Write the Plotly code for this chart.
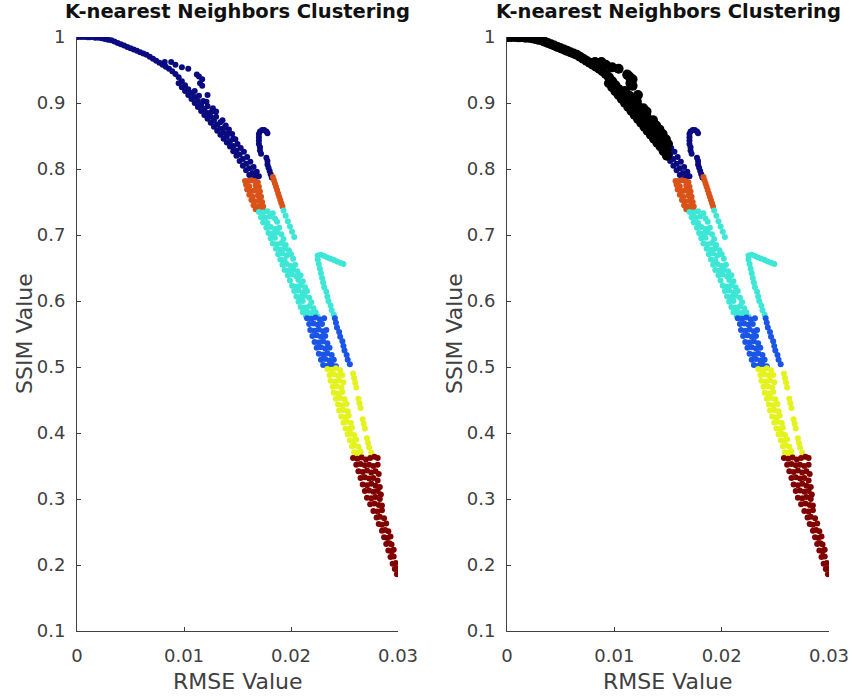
import plotly.graph_objects as go

# ---------------- data: [RMSE, SSIM] points per cluster ----------------
# navy cluster, upper part (drawn black, larger, in the right panel)
navy_upper = [
    [0.0001, 1.000], [0.0004, 1.000], [0.0007, 1.000], [0.0010, 0.9995], [0.0012, 0.9995],
    [0.0014, 1.000], [0.0017, 0.999], [0.0020, 0.999], [0.0023, 0.998], [0.0026, 0.997],
    [0.0029, 0.996], [0.0032, 0.995], [0.0035, 0.993], [0.0038, 0.991], [0.0041, 0.989],
    [0.0044, 0.987], [0.0047, 0.985], [0.0050, 0.983], [0.0053, 0.981], [0.0056, 0.979],
    [0.0059, 0.977], [0.0062, 0.975], [0.0065, 0.973], [0.0068, 0.970], [0.0071, 0.967],
    [0.0074, 0.964], [0.0077, 0.961], [0.0080, 0.958], [0.0083, 0.955], [0.0086, 0.952],
    [0.0089, 0.948], [0.0092, 0.944], [0.0095, 0.939], [0.0098, 0.933], [0.0101, 0.927],
    [0.0104, 0.921], [0.0107, 0.915], [0.0110, 0.909], [0.0113, 0.903], [0.0116, 0.897],
    [0.0119, 0.891], [0.0122, 0.885], [0.0125, 0.879], [0.0128, 0.873], [0.0131, 0.867],
    [0.0134, 0.861], [0.0137, 0.855], [0.0140, 0.849], [0.0143, 0.842], [0.0146, 0.835],
    [0.0149, 0.828],
    [0.0095, 0.930], [0.0098, 0.924], [0.0101, 0.918], [0.0104, 0.912], [0.0107, 0.906],
    [0.0110, 0.900], [0.0113, 0.894], [0.0116, 0.888], [0.0119, 0.882], [0.0122, 0.876],
    [0.0125, 0.870], [0.0128, 0.864], [0.0131, 0.858], [0.0134, 0.852], [0.0137, 0.846],
    [0.0140, 0.840], [0.0143, 0.834], [0.0146, 0.827], [0.0149, 0.820],
    [0.0110, 0.918], [0.0114, 0.911], [0.0118, 0.903], [0.0122, 0.895], [0.0126, 0.887],
    [0.0130, 0.879], [0.0134, 0.871], [0.0138, 0.863], [0.0142, 0.855], [0.0146, 0.846],
    [0.0150, 0.838],
    [0.0082, 0.962], [0.0088, 0.962], [0.0092, 0.958],
    [0.0098, 0.954], [0.0104, 0.952], [0.0112, 0.943],
    [0.0114, 0.940], [0.0117, 0.936], [0.0115, 0.930], [0.0117, 0.926],
    [0.0122, 0.912], [0.0121, 0.902], [0.0127, 0.892], [0.0130, 0.887],
    [0.0136, 0.874], [0.0139, 0.866], [0.0142, 0.860], [0.0145, 0.853],
    [0.0148, 0.845],
]

# navy cluster, lower part and the hook on the right
navy_lower = [
    [0.0152, 0.822], [0.0155, 0.815], [0.0158, 0.808], [0.0161, 0.801], [0.0164, 0.794],
    [0.0167, 0.788], [0.0152, 0.812], [0.0155, 0.805], [0.0158, 0.798], [0.0161, 0.791],
    [0.0164, 0.785], [0.0153, 0.832], [0.0156, 0.826], [0.0159, 0.818], [0.0162, 0.811],
    [0.0165, 0.803], [0.0168, 0.796], [0.0170, 0.789],
    [0.0170, 0.853], [0.0171, 0.857], [0.0173, 0.859], [0.0175, 0.859], [0.0177, 0.857],
    [0.0178, 0.854], [0.0170, 0.848], [0.0170, 0.843], [0.0170, 0.838], [0.0171, 0.833],
    [0.0171, 0.828], [0.0172, 0.823], [0.0177, 0.817], [0.0178, 0.812], [0.0178, 0.807],
    [0.0179, 0.802], [0.0180, 0.797], [0.0181, 0.792], [0.0182, 0.787],
]

orange = [
    [0.0157, 0.782], [0.0160, 0.782], [0.0163, 0.783], [0.0166, 0.782], [0.0169, 0.780],
    [0.0158, 0.776], [0.0161, 0.774], [0.0167, 0.775], [0.0170, 0.773],
    [0.0159, 0.769], [0.0162, 0.766], [0.0165, 0.767], [0.0168, 0.768], [0.0171, 0.766],
    [0.0161, 0.761], [0.0164, 0.758], [0.0169, 0.760], [0.0172, 0.758],
    [0.0163, 0.753], [0.0166, 0.751], [0.0170, 0.752], [0.0173, 0.750],
    [0.0165, 0.745], [0.0168, 0.743], [0.0171, 0.744], [0.0174, 0.743],
    [0.0167, 0.739], [0.0170, 0.737], [0.0173, 0.737],
    [0.0183, 0.788], [0.0184, 0.783], [0.0185, 0.778], [0.0186, 0.773], [0.0187, 0.768],
    [0.0188, 0.763], [0.0189, 0.758], [0.0190, 0.753], [0.0191, 0.748], [0.0192, 0.743],
]

cyan = [
    [0.0170, 0.735], [0.0174, 0.734], [0.0178, 0.736], [0.0183, 0.733],
    [0.0172, 0.727], [0.0176, 0.726], [0.0180, 0.728], [0.0185, 0.725],
    [0.0174, 0.719], [0.0178, 0.718], [0.0187, 0.720],
    [0.0177, 0.711], [0.0181, 0.712], [0.0185, 0.709], [0.0189, 0.711],
    [0.0179, 0.703], [0.0183, 0.702], [0.0187, 0.704], [0.0191, 0.701],
    [0.0181, 0.695], [0.0185, 0.696], [0.0193, 0.694],
    [0.0183, 0.687], [0.0187, 0.686], [0.0191, 0.688], [0.0195, 0.685],
    [0.0186, 0.679], [0.0190, 0.678], [0.0194, 0.680], [0.0198, 0.677],
    [0.0188, 0.671], [0.0192, 0.672], [0.0196, 0.669], [0.0200, 0.671],
    [0.0190, 0.663], [0.0194, 0.662], [0.0202, 0.664],
    [0.0192, 0.655], [0.0196, 0.656], [0.0200, 0.653], [0.0204, 0.655],
    [0.0194, 0.647], [0.0198, 0.646], [0.0202, 0.648], [0.0206, 0.645],
    [0.0197, 0.639], [0.0201, 0.640], [0.0205, 0.637], [0.0209, 0.639],
    [0.0199, 0.631], [0.0207, 0.632], [0.0211, 0.630],
    [0.0201, 0.623], [0.0205, 0.622], [0.0209, 0.624], [0.0213, 0.621],
    [0.0203, 0.615], [0.0207, 0.616], [0.0211, 0.613], [0.0215, 0.615],
    [0.0205, 0.607], [0.0209, 0.606], [0.0213, 0.608], [0.0217, 0.605],
    [0.0207, 0.599], [0.0211, 0.600], [0.0219, 0.598],
    [0.0209, 0.591], [0.0213, 0.590], [0.0217, 0.592], [0.0221, 0.589],
    [0.0211, 0.583], [0.0215, 0.584], [0.0219, 0.582], [0.0223, 0.583],
    [0.0214, 0.577], [0.0218, 0.576], [0.0222, 0.578], [0.0225, 0.576],
    [0.0193, 0.737], [0.0195, 0.729], [0.0197, 0.721], [0.0199, 0.713], [0.0201, 0.705],
    [0.0203, 0.697],
    [0.0225, 0.669], [0.0228, 0.670], [0.0231, 0.668], [0.0234, 0.666], [0.0237, 0.664],
    [0.0240, 0.662], [0.0243, 0.660], [0.0246, 0.658], [0.0249, 0.656],
    [0.0225, 0.663], [0.0226, 0.656], [0.0227, 0.649], [0.0228, 0.642], [0.0229, 0.635],
    [0.0230, 0.628], [0.0231, 0.621], [0.0233, 0.614], [0.0234, 0.607], [0.0235, 0.600],
    [0.0237, 0.593], [0.0238, 0.586], [0.0240, 0.579],
]

blue = [
    [0.0215, 0.574], [0.0219, 0.573], [0.0223, 0.575], [0.0227, 0.572], [0.0231, 0.574],
    [0.0217, 0.565], [0.0221, 0.566], [0.0225, 0.564], [0.0229, 0.565],
    [0.0218, 0.556], [0.0222, 0.555], [0.0226, 0.557], [0.0230, 0.554], [0.0233, 0.556],
    [0.0220, 0.547], [0.0224, 0.548], [0.0228, 0.546], [0.0232, 0.547],
    [0.0222, 0.538], [0.0226, 0.537], [0.0230, 0.539], [0.0234, 0.536],
    [0.0224, 0.529], [0.0228, 0.530], [0.0232, 0.528], [0.0236, 0.529],
    [0.0226, 0.520], [0.0230, 0.519], [0.0234, 0.521], [0.0238, 0.518],
    [0.0228, 0.511], [0.0232, 0.512], [0.0236, 0.510], [0.0240, 0.511],
    [0.0230, 0.503], [0.0234, 0.502], [0.0238, 0.504], [0.0242, 0.501],
    [0.0241, 0.574], [0.0242, 0.567], [0.0243, 0.560], [0.0245, 0.553], [0.0246, 0.546],
    [0.0248, 0.539], [0.0249, 0.532], [0.0250, 0.525], [0.0252, 0.518], [0.0253, 0.511],
    [0.0255, 0.504],
]

yellow = [
    [0.0234, 0.497], [0.0238, 0.496], [0.0242, 0.498], [0.0246, 0.495],
    [0.0236, 0.488], [0.0240, 0.489], [0.0244, 0.487], [0.0248, 0.488],
    [0.0237, 0.479], [0.0241, 0.478], [0.0245, 0.480], [0.0249, 0.477],
    [0.0239, 0.470], [0.0243, 0.471], [0.0247, 0.469],
    [0.0240, 0.461], [0.0244, 0.460], [0.0248, 0.462],
    [0.0242, 0.452], [0.0246, 0.453], [0.0250, 0.451],
    [0.0244, 0.443], [0.0248, 0.442], [0.0252, 0.444],
    [0.0245, 0.434], [0.0249, 0.435], [0.0253, 0.433],
    [0.0247, 0.425], [0.0251, 0.424], [0.0254, 0.426],
    [0.0249, 0.416], [0.0252, 0.417], [0.0256, 0.415],
    [0.0251, 0.407], [0.0254, 0.406], [0.0257, 0.408],
    [0.0253, 0.398], [0.0256, 0.399], [0.0259, 0.397],
    [0.0255, 0.389], [0.0258, 0.388], [0.0261, 0.390],
    [0.0257, 0.380], [0.0260, 0.381], [0.0263, 0.379],
    [0.0259, 0.371], [0.0262, 0.370], [0.0265, 0.372],
    [0.0261, 0.365], [0.0264, 0.366], [0.0266, 0.364],
    [0.0258, 0.490], [0.0259, 0.483], [0.0260, 0.476], [0.0261, 0.469], [0.0263, 0.452],
    [0.0264, 0.445], [0.0265, 0.438], [0.0267, 0.421], [0.0268, 0.414], [0.0269, 0.407],
    [0.0271, 0.392], [0.0272, 0.385], [0.0273, 0.378], [0.0275, 0.370], [0.0276, 0.364],
]

dark_red = [
    [0.0258, 0.362], [0.0262, 0.361], [0.0266, 0.363], [0.0270, 0.360], [0.0274, 0.362],
    [0.0278, 0.364], [0.0281, 0.362],
    [0.0261, 0.352], [0.0265, 0.353], [0.0269, 0.351], [0.0273, 0.352], [0.0277, 0.350],
    [0.0281, 0.352],
    [0.0263, 0.342], [0.0267, 0.341], [0.0271, 0.343], [0.0275, 0.340], [0.0279, 0.342],
    [0.0282, 0.338],
    [0.0265, 0.332], [0.0269, 0.333], [0.0273, 0.331], [0.0277, 0.332], [0.0281, 0.328],
    [0.0267, 0.322], [0.0271, 0.321], [0.0275, 0.323], [0.0279, 0.320], [0.0283, 0.318],
    [0.0269, 0.312], [0.0273, 0.313], [0.0277, 0.311], [0.0281, 0.312], [0.0284, 0.307],
    [0.0271, 0.302], [0.0275, 0.301], [0.0279, 0.303], [0.0283, 0.300],
    [0.0274, 0.292], [0.0278, 0.293], [0.0282, 0.291], [0.0285, 0.290],
    [0.0277, 0.282], [0.0281, 0.281], [0.0285, 0.283],
    [0.0280, 0.272], [0.0283, 0.273], [0.0287, 0.271],
    [0.0282, 0.262], [0.0285, 0.261], [0.0289, 0.263],
    [0.0285, 0.252], [0.0288, 0.253], [0.0291, 0.251],
    [0.0287, 0.242], [0.0290, 0.241], [0.0293, 0.243],
    [0.0289, 0.232], [0.0292, 0.233], [0.0294, 0.231],
    [0.0291, 0.222], [0.0294, 0.221], [0.0296, 0.223],
    [0.0293, 0.212], [0.0296, 0.213],
    [0.0295, 0.202], [0.0298, 0.203],
    [0.0297, 0.194], [0.0299, 0.195],
    [0.0299, 0.186], [0.0301, 0.187],
]

x_ticks = [0, 0.01, 0.02, 0.03]
x_tick_labels = ["0", "0.01", "0.02", "0.03"]
y_ticks = [0.1, 0.2, 0.3, 0.4, 0.5, 0.6, 0.7, 0.8, 0.9, 1.0]
y_tick_labels = ["0.1", "0.2", "0.3", "0.4", "0.5", "0.6", "0.7", "0.8", "0.9", "1"]

title_text = "K-nearest Neighbors Clustering"
x_title = "RMSE Value"
y_title = "SSIM Value"

# ---------------- styling ----------------
NAVY = "#0b0b80"
ORANGE = "#d95319"
CYAN = "#3ee6d6"
BLUE = "#1a55e6"
YELLOW = "#e4f21e"
RED = "#800000"
AX = "#404040"
MS = 6
FONT = "DejaVu Sans, Liberation Sans, Arial"

clusters = [
    (navy_upper, NAVY),
    (navy_lower, NAVY),
    (orange, ORANGE),
    (cyan, CYAN),
    (blue, BLUE),
    (yellow, YELLOW),
    (dark_red, RED),
]

fig = go.Figure()
for xa, ya in [("x", "y"), ("x2", "y2")]:
    for pts, col in clusters:
        fig.add_trace(go.Scatter(x=[p[0] for p in pts], y=[p[1] for p in pts],
                                 mode="markers", xaxis=xa, yaxis=ya,
                                 marker=dict(color=col, size=MS, line=dict(width=0)),
                                 hoverinfo="skip", showlegend=False))

# black overlay (larger markers) in the right panel
fig.add_trace(go.Scatter(x=[p[0] for p in navy_upper], y=[p[1] for p in navy_upper],
                         mode="markers", xaxis="x2", yaxis="y2",
                         marker=dict(color="black", size=10, line=dict(width=0)),
                         hoverinfo="skip", showlegend=False))

W, H = 855, 700
L1, R1 = 77, 398
L2, R2 = 507, 829
TOP, BOT = 37, 631

xa_common = dict(range=[0, 0.03], tickvals=x_ticks, ticktext=x_tick_labels,
                 ticks="inside", ticklen=4, tickwidth=1, tickcolor=AX,
                 showline=True, linecolor=AX, linewidth=1, mirror=False,
                 showgrid=False, zeroline=False, ticklabelstandoff=8, automargin=False,
                 tickfont=dict(family=FONT, size=18, color=AX),
                 fixedrange=True)
ya_common = dict(range=[0.1, 1.0], tickvals=y_ticks, ticktext=y_tick_labels,
                 ticks="inside", ticklen=4, tickwidth=1, tickcolor=AX,
                 showline=True, linecolor=AX, linewidth=1, mirror=False,
                 showgrid=False, zeroline=False, ticklabelstandoff=7, automargin=False,
                 tickfont=dict(family=FONT, size=18, color=AX),
                 fixedrange=True)

fig.update_layout(
    width=W, height=H,
    margin=dict(l=0, r=0, t=0, b=0, pad=0, autoexpand=False),
    paper_bgcolor="white", plot_bgcolor="white",
    xaxis=dict(domain=[L1 / W, R1 / W], anchor="y", **xa_common),
    yaxis=dict(domain=[(H - BOT) / H, (H - TOP) / H], anchor="x", **ya_common),
    xaxis2=dict(domain=[L2 / W, R2 / W], anchor="y2", **xa_common),
    yaxis2=dict(domain=[(H - BOT) / H, (H - TOP) / H], anchor="x2", **ya_common),
)

ann = []
for L, R in [(L1, R1), (L2, R2)]:
    cx = (L + R) / 2 / W
    ann.append(dict(text="<b>" + title_text + "</b>", x=cx, y=1 - 12 / H, xref="paper", yref="paper",
                    xanchor="center", yanchor="middle", showarrow=False,
                    font=dict(family=FONT, size=19.5, color="#111111")))
    ann.append(dict(text=x_title, x=cx, y=1 - 681 / H, xref="paper", yref="paper",
                    xanchor="center", yanchor="middle", showarrow=False,
                    font=dict(family=FONT, size=22, color=AX)))
    ann.append(dict(text=y_title, x=(L - 52) / W, y=1 - 334 / H, xref="paper", yref="paper",
                    xanchor="center", yanchor="middle", showarrow=False, textangle=-90,
                    font=dict(family=FONT, size=22, color=AX)))
fig.update_layout(annotations=ann)

fig.write_html("out.html")
